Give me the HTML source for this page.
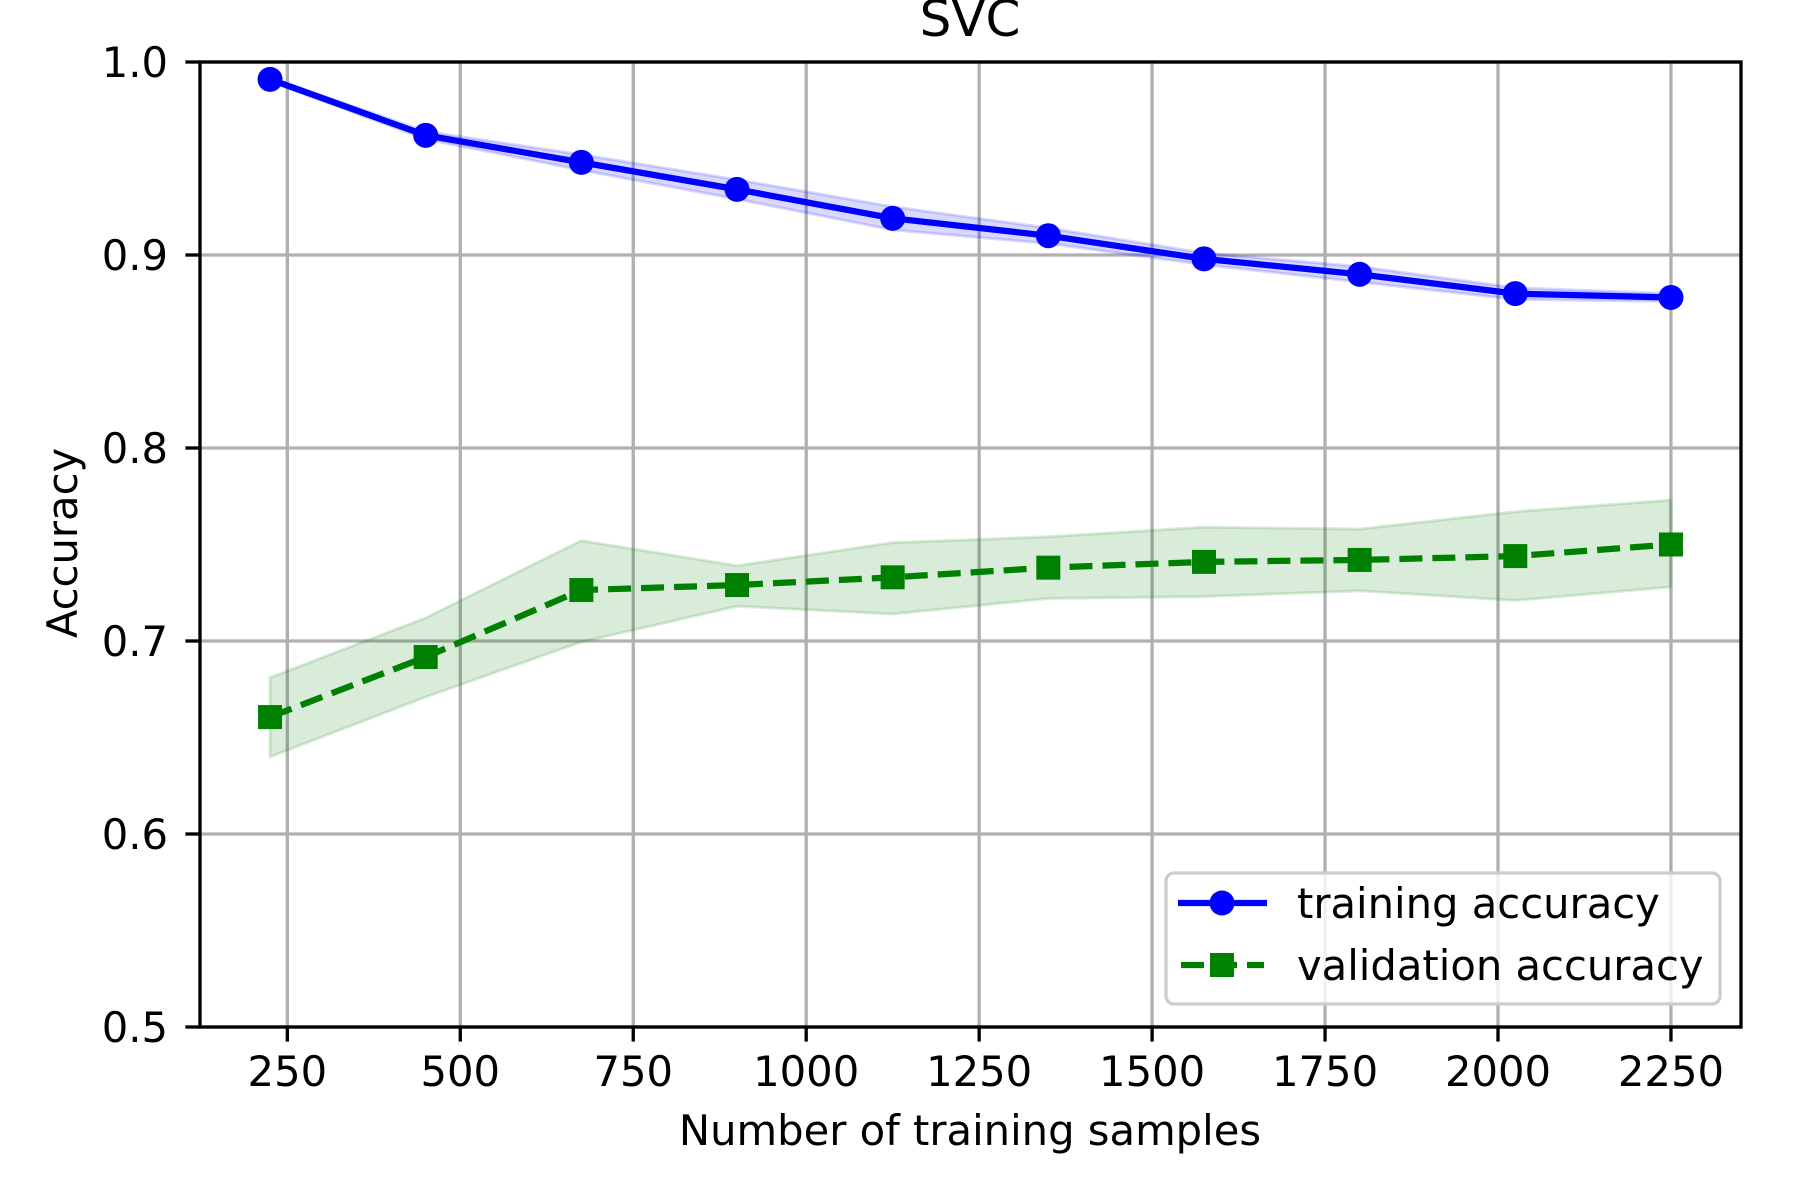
<!DOCTYPE html>
<html><head><meta charset="utf-8"><style>
html,body{margin:0;padding:0;background:#fff;}
svg{display:block;font-family:"DejaVu Sans","Liberation Sans",sans-serif;}
</style></head><body>
<svg id="chart" width="1800" height="1200" viewBox="0 0 1800 1200" xmlns="http://www.w3.org/2000/svg">
<rect width="1800" height="1200" fill="#fff"/>
<g id="grid"></g>
<g id="bands"></g>
<g id="series"></g>
<g id="axes"></g>
<text x="970" y="36" font-size="50" text-anchor="middle">SVC</text>
<text x="970" y="1145" font-size="41.7" text-anchor="middle">Number of training samples</text>
<text x="0" y="0" font-size="41.7" text-anchor="middle" transform="translate(77,543) rotate(-90)">Accuracy</text>
<g>
<rect x="1166" y="873" width="554" height="131" rx="8" fill="#fff" fill-opacity="0.8" stroke="#cccccc" stroke-width="3.3"/>
<g>
<line x1="1178" y1="903" x2="1267" y2="903" stroke="#0000ff" stroke-width="6.25"/>
<circle cx="1222" cy="903" r="12.5" fill="#0000ff"/>
<text x="1297" y="918" font-size="41.7">training accuracy</text>
</g>
<g>
<line x1="1181" y1="965" x2="1264" y2="965" stroke="#008000" stroke-width="6.25" stroke-dasharray="23 10"/>
<rect x="1210" y="953" width="24" height="24" fill="#008000"/>
<text x="1297" y="980" font-size="41.7">validation accuracy</text>
</g>
</g>
</svg>
<script>
const trainSizes = [225, 450, 675, 900, 1125, 1350, 1575, 1800, 2025, 2250];
const trainMean = [0.991, 0.962, 0.948, 0.934, 0.919, 0.910, 0.898, 0.890, 0.880, 0.878];
const trainStd = [0.001, 0.002, 0.004, 0.005, 0.006, 0.004, 0.003, 0.004, 0.003, 0.002];
const valMean = [0.6606, 0.6917, 0.7264, 0.729, 0.733, 0.738, 0.741, 0.742, 0.744, 0.750];
const valUpper = [0.681, 0.712, 0.752, 0.739, 0.751, 0.754, 0.759, 0.758, 0.767, 0.773];
const valLower = [0.640, 0.671, 0.6995, 0.718, 0.714, 0.722, 0.723, 0.726, 0.721, 0.728];
const xTicks = [250, 500, 750, 1000, 1250, 1500, 1750, 2000, 2250];
const yTicks = [0.5, 0.6, 0.7, 0.8, 0.9, 1.0];
const yTickLabels = ["0.5", "0.6", "0.7", "0.8", "0.9", "1.0"];

const L = 200, R = 1741, T = 62, B = 1027;
const xMin = 123.75, xMax = 2351.25, yMin = 0.5, yMax = 1.0;
const sx = v => L + (v - xMin) / (xMax - xMin) * (R - L);
const sy = v => B - (v - yMin) / (yMax - yMin) * (B - T);
const NS = "http://www.w3.org/2000/svg";
function mk(tag, attrs, parent) {
  const e = document.createElementNS(NS, tag);
  for (const k in attrs) e.setAttribute(k, attrs[k]);
  parent.appendChild(e);
  return e;
}
const grid = document.getElementById('grid');
const axes = document.getElementById('axes');
const bands = document.getElementById('bands');
const series = document.getElementById('series');

xTicks.forEach(t => {
  const x = sx(t);
  const g = mk('line', {x1: x, y1: T, x2: x, y2: B, stroke: '#b0b0b0', 'stroke-width': 3.33}, grid);
  
  
  const tk = mk('line', {x1: x, y1: B, x2: x, y2: B + 14.6, stroke: '#000', 'stroke-width': 3.33}, axes);
  
  
  const tx = mk('text', {x: x, y: 1086, 'font-size': 41.7, 'text-anchor': 'middle'}, axes);
  tx.textContent = String(t);
  
  
});
yTicks.forEach((t, i) => {
  const y = sy(t);
  const g = mk('line', {x1: L, y1: y, x2: R, y2: y, stroke: '#b0b0b0', 'stroke-width': 3.33}, grid);
  
  
  const tk = mk('line', {x1: L - 14.6, y1: y, x2: L, y2: y, stroke: '#000', 'stroke-width': 3.33}, axes);
  
  
  const tx = mk('text', {x: 168, y: y + 15, 'font-size': 41.7, 'text-anchor': 'end'}, axes);
  tx.textContent = yTickLabels[i];
  
  
});
const frame = mk('rect', {x: L, y: T, width: R - L, height: B - T, fill: 'none', stroke: '#000', 'stroke-width': 3.33}, axes);



function bandPath(up, lo) {
  let d = '';
  trainSizes.forEach((s, i) => { d += (i ? 'L' : 'M') + sx(s) + ',' + sy(up[i]); });
  for (let i = trainSizes.length - 1; i >= 0; i--) d += 'L' + sx(trainSizes[i]) + ',' + sy(lo[i]);
  return d + 'Z';
}
const tUp = trainMean.map((m, i) => m + trainStd[i]);
const tLo = trainMean.map((m, i) => m - trainStd[i]);
const tb = mk('path', {d: bandPath(tUp, tLo), fill: '#0000ff', 'fill-opacity': 0.15, stroke: '#0000ff', 'stroke-opacity': 0.15, 'stroke-width': 3}, bands);


const vb = mk('path', {d: bandPath(valUpper, valLower), fill: '#008000', 'fill-opacity': 0.15, stroke: '#008000', 'stroke-opacity': 0.15, 'stroke-width': 3}, bands);



const tl = mk('polyline', {points: trainSizes.map((s, i) => sx(s) + ',' + sy(trainMean[i])).join(' '), fill: 'none', stroke: '#0000ff', 'stroke-width': 6.25, 'stroke-linejoin': 'round'}, series);


const vl = mk('polyline', {points: trainSizes.map((s, i) => sx(s) + ',' + sy(valMean[i])).join(' '), fill: 'none', stroke: '#008000', 'stroke-width': 6.25, 'stroke-dasharray': '23 10'}, series);


trainSizes.forEach((s, i) => {
  const c = mk('circle', {cx: sx(s), cy: sy(trainMean[i]), r: 12.5, fill: '#0000ff'}, series);
  
  
  const r = mk('rect', {x: sx(s) - 12, y: sy(valMean[i]) - 12, width: 24, height: 24, fill: '#008000'}, series);
  
  
});
</script>
</body></html>
